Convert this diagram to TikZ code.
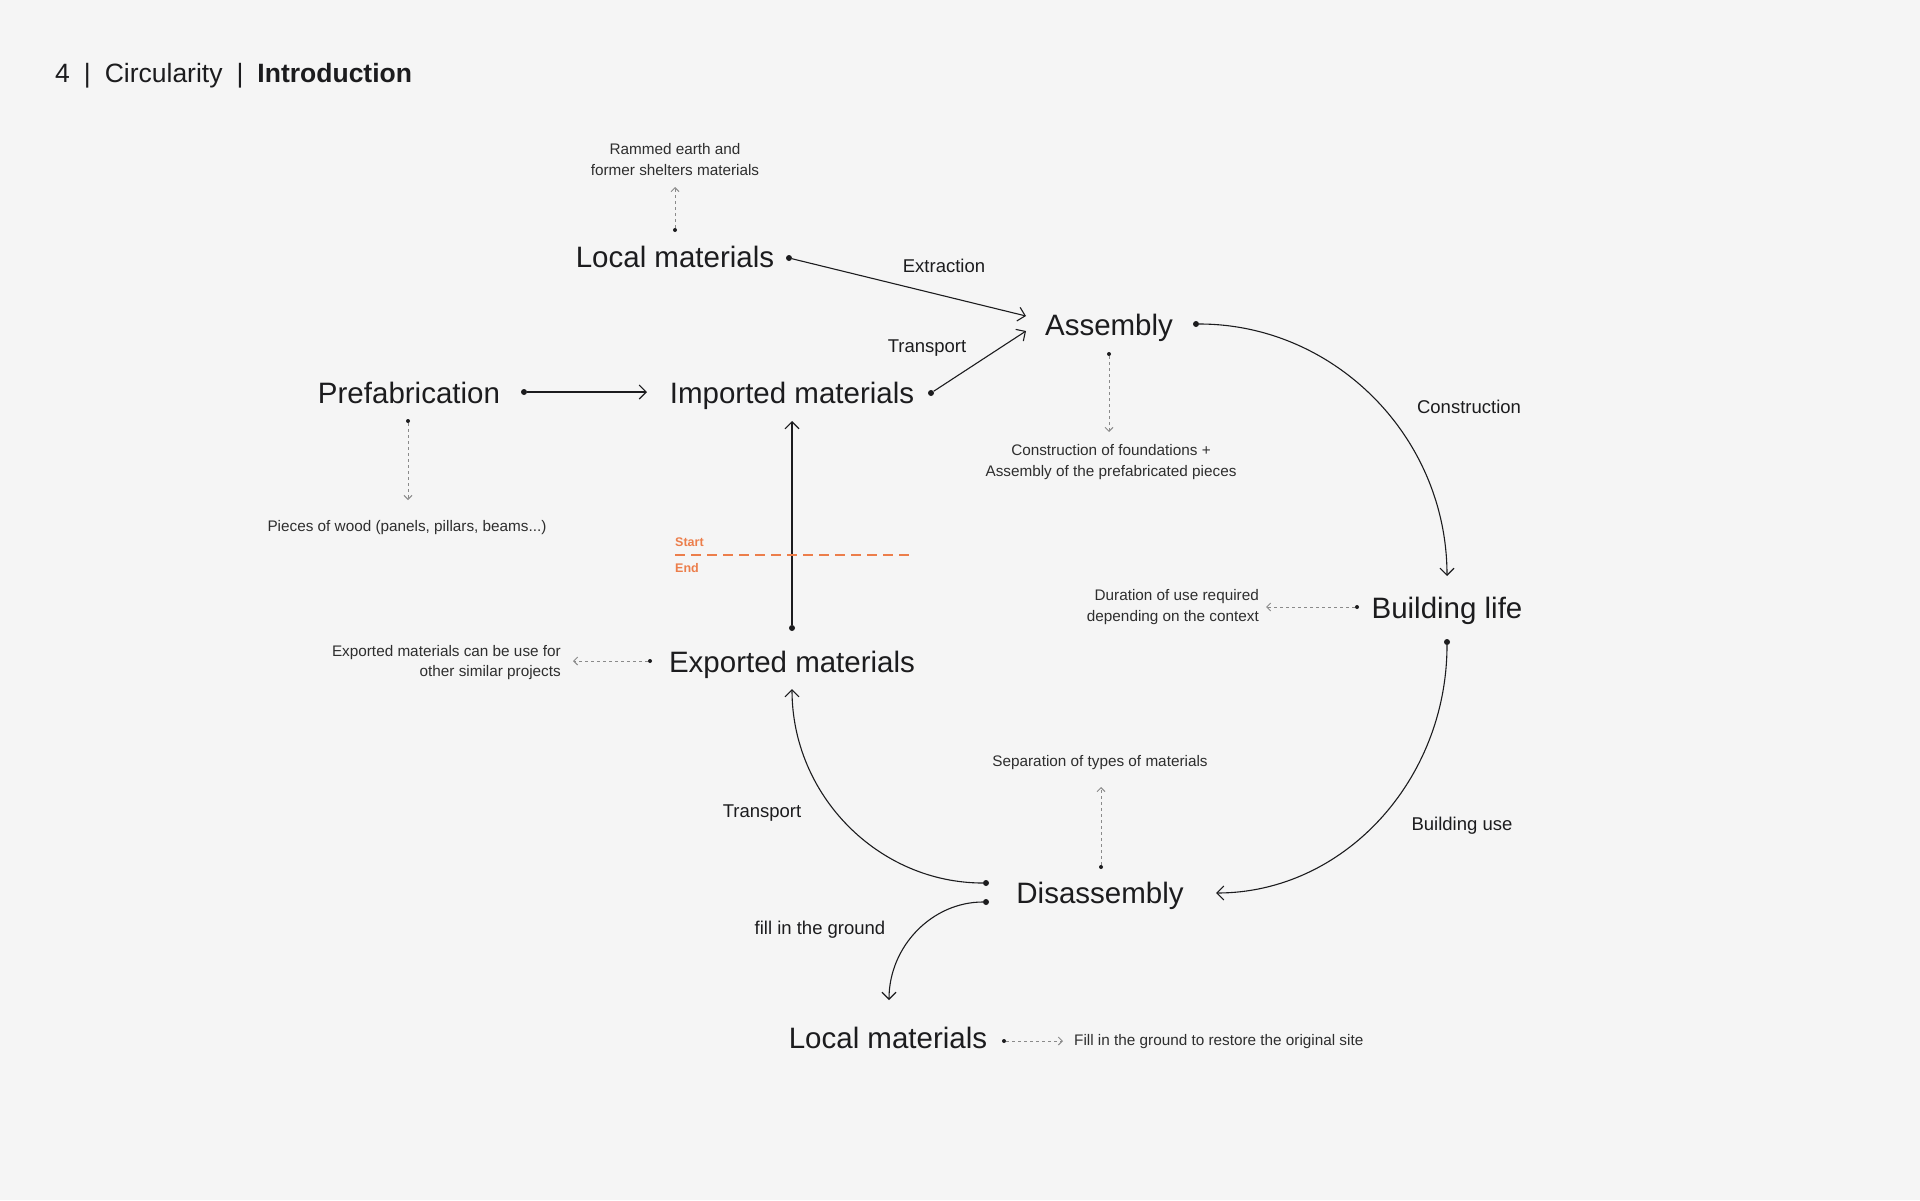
\documentclass[tikz,border=0pt]{standalone}
\usepackage{fontspec}
\setmainfont{Liberation Sans}
\usetikzlibrary{arrows.meta}
\definecolor{bg}{HTML}{F5F5F5}
\definecolor{ink}{HTML}{1C1C1E}
\definecolor{note}{HTML}{2E2E2E}
\definecolor{hint}{HTML}{8A8A8A}
\definecolor{orng}{HTML}{EC7E4B}
\tikzset{
 big/.style={font=\fontsize{29.5}{32}\selectfont, text=ink, inner sep=0pt},
 mid/.style={font=\fontsize{18.5}{22}\selectfont, text=ink, inner sep=0pt},
 small/.style={font=\fontsize{15.3}{20.5}\selectfont, text=note, inner sep=0pt, align=center},
 conn/.style={draw=ink, line width=1.1pt, -{Straight Barb[length=7pt,width=14pt,line width=1.1pt]}},
 hintline/.style={draw=hint, line width=1pt, dash pattern=on 3pt off 3pt, -{Straight Barb[length=4pt,width=8pt,line width=1pt]}},
 dot/.style={circle, fill=ink, inner sep=0pt, minimum size=6pt},
 hdot/.style={circle, fill=ink, inner sep=0pt, minimum size=4pt},
 orlabel/.style={font=\bfseries\fontsize{12.5}{14}\selectfont, text=orng, inner sep=0pt, anchor=west},
}
\begin{document}
\begin{tikzpicture}[x=1pt,y=-1pt]
\fill[bg] (0,0) rectangle (1920,1200);
\useasboundingbox (0,0) rectangle (1920,1200);

% header
\node[anchor=west, inner sep=0pt, font=\fontsize{26.5}{30}\selectfont, text=ink] (hdr) at (55,76)
 {4\hspace{14pt}|\hspace{14pt}Circularity\hspace{14pt}|\hspace{14pt}\textbf{Introduction}};

% main nodes
\node[big] (localtop) at (675,256.5) {Local materials};
\node[big] (assembly) at (1109,328) {Assembly};
\node[big] (imported) at (792,396) {Imported materials};
\node[big] (prefab) at (409,392.5) {Prefabrication};
\node[big] (buildlife) at (1447,611) {Building life};
\node[big] (exported) at (792,665) {Exported materials};
\node[big] (disasm) at (1100,896) {Disassembly};
\node[big] (localbot) at (888,1037.5) {Local materials};

% edge labels
\node[mid] (lextr) at (944,266) {Extraction};
\node[mid] (ltrans1) at (927,348) {Transport};
\node[mid] (lconstr) at (1469,407) {Construction};
\node[mid] (luse) at (1462,826) {Building use};
\node[mid] (ltrans2) at (762,813) {Transport};
\node[mid] (lfill) at (820,930) {fill in the ground};

% notes
\node[small] (nram) at (675,159.5) {Rammed earth and\\former shelters materials};
\node[small] (nwood) at (407,528) {Pieces of wood (panels, pillars, beams...)};
\node[small] (nfound) at (1111,462) {Construction of foundations +\\Assembly of the prefabricated pieces};
\node[small, anchor=east, align=right] (ndur) at (1259,607) {Duration of use required\\depending on the context};
\node[small, anchor=east, align=right] (nexp) at (561,662.5) {Exported materials can be use for\\other similar projects};
\node[small] (nsep) at (1100,763) {Separation of types of materials};
\node[small, anchor=west] (nfill) at (1074,1042) {Fill in the ground to restore the original site};

% dots
\node[dot] (dlocal) at (789,258) {};
\node[dot] (dimp) at (931,393) {};
\node[dot] (dprefab) at (524,392) {};
\node[dot] (dasm) at (1196,324) {};
\node[dot] (dlife) at (1447,642) {};
\node[dot] (dexp) at (792,628) {};
\node[dot] (ddis1) at (986,883) {};
\node[dot] (ddis2) at (986,902) {};
% hint dots
\node[hdot] (hram) at (675,230) {};
\node[hdot] (hprefab) at (408,421) {};
\node[hdot] (hasm) at (1109,354) {};
\node[hdot] (hlife) at (1357,607) {};
\node[hdot] (hexp) at (650,661) {};
\node[hdot] (hdis) at (1101,867) {};
\node[hdot] (hlocal) at (1004,1041) {};

% arrow targets
\coordinate (tasm1) at (1026,316);
\coordinate (tasm2) at (1026,331);
\coordinate (timp1) at (647,392);
\coordinate (timp2) at (792,421);
\coordinate (tlife) at (1447,576);
\coordinate (tdis) at (1216,893);
\coordinate (texp) at (792,689);
\coordinate (tlocal) at (889,1000);
\coordinate (tram) at (675,187);
\coordinate (twood) at (408,500);
\coordinate (tfound) at (1109,432);
\coordinate (tdur) at (1266,607);
\coordinate (texpn) at (573,661);
\coordinate (tsep) at (1101,787);
\coordinate (tfill) at (1063,1041);

% main connectors
\draw[conn] (dlocal) -- (tasm1);
\draw[conn] (dimp) -- (tasm2);
\draw[conn] (dprefab) -- (timp1);
\draw[conn] (dexp) -- (timp2);
\draw[conn] (dasm) .. controls (1334.6,324) and (1447,437) .. (tlife);
\draw[conn] (dlife) .. controls (1447,780.6) and (1343.6,893) .. (tdis);
\draw[conn] (ddis1) .. controls (878.9,883) and (792,796) .. (texp);
\draw[conn] (ddis2) .. controls (932.4,902) and (889,946) .. (tlocal);

% hint connectors
\draw[hintline] (hram) -- (tram);
\draw[hintline] (hprefab) -- (twood);
\draw[hintline] (hasm) -- (tfound);
\draw[hintline] (hlife) -- (tdur);
\draw[hintline] (hexp) -- (texpn);
\draw[hintline] (hdis) -- (tsep);
\draw[hintline] (hlocal) -- (tfill);

% start / end
\coordinate (sl) at (675,555);
\coordinate (sr) at (910,555);
\draw[orng, line width=2pt, dash pattern=on 10pt off 6pt] (sl) -- (sr);
\node[orlabel] (lstart) at (675,542) {Start};
\node[orlabel] (lend) at (675,568) {End};
\end{tikzpicture}
\end{document}
